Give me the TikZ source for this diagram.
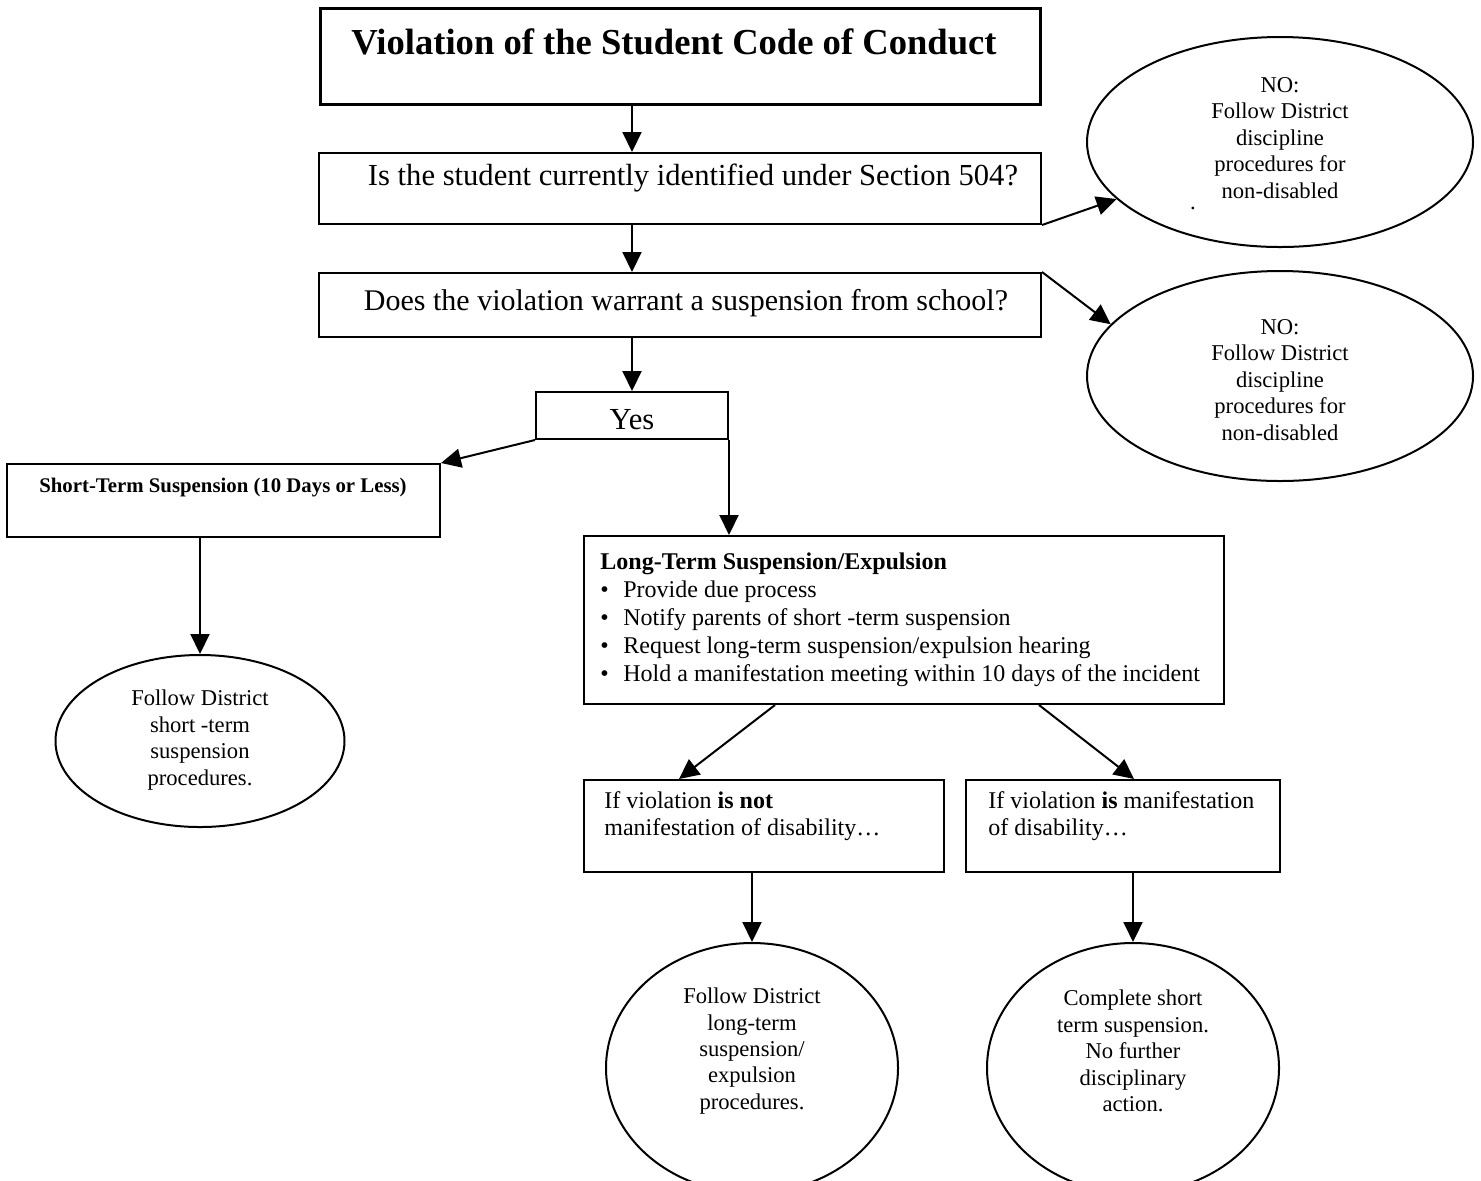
\documentclass[tikz,border=0pt]{standalone}
\usepackage{fontspec}
\setmainfont{Liberation Serif}
\usetikzlibrary{arrows.meta,shapes.geometric,calc}
\begin{document}
\begin{tikzpicture}[x=0.5pt,y=-0.5pt,
  boxst/.style={draw,line width=1pt,rectangle,inner sep=0pt},
  ell/.style={draw,line width=1pt,ellipse,inner sep=0pt},
  txt/.style={inner sep=0pt,align=center},
  ltxt/.style={inner sep=0pt,align=left},
  arr/.style={line width=1pt,-{Triangle[length=10pt,width=9.5pt]}},
  qfont/.style={font=\fontsize{15.3}{18}\selectfont},
  efont/.style={font=\fontsize{11.3}{13.2}\selectfont},
  bfont/.style={font=\fontsize{12}{13.6}\selectfont},
  lfont/.style={font=\fontsize{12}{14}\selectfont}]
\useasboundingbox (0,0) rectangle (1481,1180);
\fill[white] (0,0) rectangle (1481,1180);

% boxes
\node[boxst,line width=1.5pt,minimum width=360pt,minimum height=48pt] (title) at (680,56) {};
\node[boxst,minimum width=361pt,minimum height=35.5pt] (q1) at (680,188.5) {};
\node[boxst,minimum width=361pt,minimum height=32pt] (q2) at (680,305) {};
\node[boxst,minimum width=96pt,minimum height=23.5pt] (yes) at (632,415.5) {};
\node[boxst,minimum width=216.5pt,minimum height=36.5pt] (short) at (223.5,500.5) {};
\node[boxst,minimum width=320pt,minimum height=84pt] (long) at (904,620) {};
\node[boxst,minimum width=180pt,minimum height=46pt] (not) at (764,826) {};
\node[boxst,minimum width=157pt,minimum height=46pt] (is) at (1123,826) {};

% ellipses
\node[ell,minimum width=193pt,minimum height=105pt] (e1) at (1280,142) {};
\node[ell,minimum width=193pt,minimum height=105pt] (e2) at (1280,376) {};
\node[ell,minimum width=144.5pt,minimum height=86pt] (se) at (200,741) {};
\node[ell,minimum width=146pt,minimum height=125pt] (c1) at (752,1068) {};
\node[ell,minimum width=146pt,minimum height=125pt] (c2) at (1133,1068) {};

% texts
\node[txt,font=\fontsize{18.3}{22}\selectfont\bfseries] (titletxt) at (674,42) {Violation of the Student Code of Conduct};
\node[txt,qfont] (q1txt) at (693,178) {Is the student currently identified under Section 504?};
\node[txt,font=\fontsize{15}{18}\selectfont] (q2txt) at (686,303) {Does the violation warrant a suspension from school?};
\node[txt,qfont] (yestxt) at (632,420) {Yes};
\node[txt,font=\fontsize{10.4}{12}\selectfont\bfseries] (shorttxt) at (223,488) {Short-Term Suspension (10 Days or Less)};
\node[txt,efont] (e1txt) at (1280,138) {NO:\\Follow District\\discipline\\procedures for\\non-disabled};
\node[txt,efont] (e1dot) at (1193,208) {.};
\node[txt,efont] (e2txt) at (1280,380) {NO:\\Follow District\\discipline\\procedures for\\non-disabled};
\node[txt,efont] (setxt) at (200,740) {Follow District\\short -term\\suspension\\procedures.};
\node[ltxt,lfont,anchor=north west] (longtxt) at (600,552) {\textbf{Long-Term Suspension/Expulsion}\\
  \makebox[11.5pt][l]{\textbullet}Provide due process\\
  \makebox[11.5pt][l]{\textbullet}Notify parents of short -term suspension\\
  \makebox[11.5pt][l]{\textbullet}Request long-term suspension/expulsion hearing\\
  \makebox[11.5pt][l]{\textbullet}Hold a manifestation meeting within 10 days of the incident};
\node[ltxt,bfont,anchor=north west] (nottxt) at (604,791) {If violation \textbf{is not}\\manifestation of disability…};
\node[ltxt,bfont,anchor=north west] (istxt) at (988,791) {If violation \textbf{is} manifestation\\of disability…};
\node[txt,efont] (c1txt) at (752,1051) {Follow District\\long-term\\suspension/\\expulsion\\procedures.};
\node[txt,efont] (c2txt) at (1133,1051) {Complete short\\term suspension.\\No further\\disciplinary\\action.};

% connectors
\coordinate (v1) at (632,0);
\coordinate (v2) at (200,0);
\draw[arr] (title.south -| v1) -- (q1.north -| v1);
\draw[arr] (q1.south -| v1) -- (q2.north -| v1);
\draw[arr] (q2.south -| v1) -- (yes.north);
\draw[arr] (q1.south east) -- (e1);
\draw[arr] (q2.north east) -- (e2.163);
\draw[arr] (yes.south west) -- (short.north east);
\draw[arr] (yes.south east) -- (yes.south east |- long.north);
\draw[arr] (short.south -| v2) -- (se.north);
\draw[arr] ($(long.south west)+(192,0)$) -- ($(not.north west)+(96,0)$);
\draw[arr] ($(long.south west)+(456,0)$) -- ($(is.north west)+(169,0)$);
\draw[arr] (not.south -| c1) -- (c1.north);
\draw[arr] (is.south -| c2) -- (c2.north);
\end{tikzpicture}
\end{document}
